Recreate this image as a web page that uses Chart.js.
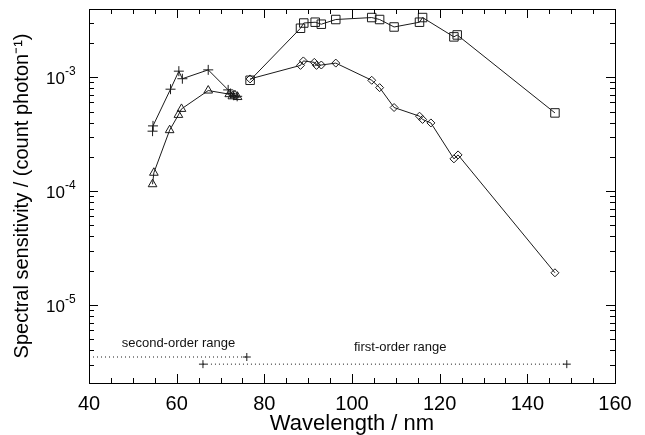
<!DOCTYPE html>
<html>
<head>
<meta charset="utf-8">
<script src="https://cdn.jsdelivr.net/npm/chart.js@4.4.1/dist/chart.umd.min.js"></script>
<style>
  html, body { margin: 0; padding: 0; background: #fff; }
</style>
</head>
<body>
<canvas id="myChart" width="645" height="435"></canvas>
<script>
// Data series (wavelength in nm, sensitivity in count/photon)
const crossNm  = [54.5, 54.6, 58.6, 60.5, 61.3, 67.2, 71.75, 72.3, 73.0, 73.8];
const crossVal = [3.36e-4, 3.74e-4, 7.85e-4, 1.13e-3, 9.7e-4, 1.16e-3, 7.74e-4, 7.2e-4, 6.95e-4, 6.8e-4];

const triNm  = [54.5, 54.8, 58.4, 60.4, 61.1, 67.2, 72.0, 72.7, 73.3, 73.9];
const triVal = [1.15e-4, 1.45e-4, 3.43e-4, 4.67e-4, 5.27e-4, 7.64e-4, 7.1e-4, 6.8e-4, 6.95e-4, 6.7e-4];

const squareNm  = [76.75, 88.25, 89.0, 91.6, 93.0, 96.3, 104.5, 106.3, 109.6, 115.4, 116.1, 123.25, 124.0, 146.3];
const squareVal = [9.4e-4, 2.69e-3, 2.99e-3, 3.04e-3, 2.92e-3, 3.21e-3, 3.34e-3, 3.21e-3, 2.76e-3, 3.04e-3, 3.34e-3, 2.26e-3, 2.35e-3, 4.86e-4];

const diamondNm  = [76.75, 88.25, 88.9, 91.4, 91.9, 93.0, 96.3, 104.5, 106.3, 109.6, 115.4, 116.1, 118.0, 123.25, 124.2, 146.3];
const diamondVal = [9.66e-4, 1.27e-3, 1.39e-3, 1.35e-3, 1.27e-3, 1.28e-3, 1.33e-3, 9.4e-4, 8.1e-4, 5.42e-4, 4.55e-4, 4.26e-4, 3.97e-4, 1.92e-4, 2.08e-4, 1.92e-5];

// order ranges (dotted bars near the bottom)
const secondRangeNm = [40, 76];
const secondRangeVal = [3.5e-6, 3.5e-6];
const firstRangeNm = [66, 149];
const firstRangeVal = [3.03e-6, 3.03e-6];

const rangeLabels = ['second-order range', 'first-order range'];
const rangeLabelNm = [60.4, 111.0];
const rangeLabelVal = [4.64e-6, 4.28e-6];

// axis ticks
const xTicks = [40, 60, 80, 100, 120, 140, 160];
const yTicks = [1e-5, 1e-4, 1e-3];
const yTickExp = ['-5', '-4', '-3'];

const pts = (xs, ys) => xs.map((x, i) => ({ x: x, y: ys[i] }));
const font = '"Liberation Sans", Arial, Helvetica, sans-serif';
const ink = '#1a1a1a';

const baseSet = {
  showLine: true,
  borderColor: ink,
  borderWidth: 1,
  backgroundColor: 'rgba(0,0,0,0)',
  pointBorderColor: ink,
  pointBorderWidth: 1,
  pointHoverRadius: 0
};

const data = {
  datasets: [
    Object.assign({}, baseSet, { label: 'cross', data: pts(crossNm, crossVal), pointStyle: 'cross', pointRadius: 5 }),
    Object.assign({}, baseSet, { label: 'triangle', data: pts(triNm, triVal), pointStyle: 'triangle', pointRadius: 5 }),
    Object.assign({}, baseSet, { label: 'square', data: pts(squareNm, squareVal), pointStyle: 'rect', pointRadius: 6 }),
    Object.assign({}, baseSet, { label: 'diamond', data: pts(diamondNm, diamondVal), pointStyle: 'rectRot', pointRadius: 4 }),
    Object.assign({}, baseSet, { label: 'second', data: pts(secondRangeNm, secondRangeVal), borderDash: [1, 3], pointStyle: 'cross', pointRadius: [0, 4] }),
    Object.assign({}, baseSet, { label: 'first', data: pts(firstRangeNm, firstRangeVal), borderDash: [1, 3], pointStyle: 'cross', pointRadius: 4 })
  ]
};

// frame with inward ticks on all four sides, power-of-ten labels, range labels
const frameTicks = {
  id: 'frameTicks',
  afterDatasetsDraw(chart) {
    const { ctx, chartArea: a, scales: { x, y } } = chart;
    ctx.save();
    ctx.strokeStyle = '#000';
    ctx.lineWidth = 1;
    const line = (x1, y1, x2, y2) => { ctx.beginPath(); ctx.moveTo(x1, y1); ctx.lineTo(x2, y2); ctx.stroke(); };
    ctx.strokeRect(Math.round(a.left) + 0.5, Math.round(a.top) + 0.5, Math.round(a.right - a.left), Math.round(a.bottom - a.top));
    for (let v = 40; v <= 160; v += 5) {
      const px = Math.round(x.getPixelForValue(v)) + 0.5;
      const len = v % 20 === 0 ? 9 : 5;
      line(px, a.bottom, px, a.bottom - len);
      line(px, a.top, px, a.top + len);
    }
    for (let e = -6; e <= -3; e++) {
      for (let m = 1; m <= 9; m++) {
        const v = m * Math.pow(10, e);
        if (v < y.min || v > y.max) continue;
        const py = Math.round(y.getPixelForValue(v)) + 0.5;
        const len = m === 1 ? 9 : 5;
        line(a.left, py, a.left + len, py);
        line(a.right, py, a.right - len, py);
      }
    }
    // y tick labels as 10 with raised exponent
    ctx.fillStyle = '#000';
    ctx.textBaseline = 'alphabetic';
    yTicks.forEach((v, i) => {
      const py = y.getPixelForValue(v);
      const xr = a.left - 24;
      ctx.font = '17px ' + font;
      ctx.textAlign = 'right';
      ctx.fillText('10', xr, py + 7);
      ctx.font = '12px ' + font;
      ctx.textAlign = 'left';
      ctx.fillText(yTickExp[i], xr, py - 2);
    });
    ctx.fillStyle = '#111';
    ctx.font = '13px ' + font;
    ctx.textAlign = 'center';
    ctx.textBaseline = 'middle';
    rangeLabels.forEach((t, i) => {
      ctx.fillText(t, x.getPixelForValue(rangeLabelNm[i]), y.getPixelForValue(rangeLabelVal[i]));
    });
    ctx.restore();
  }
};

const options = {
  responsive: false,
  animation: false,
  layout: { padding: { top: 9, right: 30, left: 0, bottom: 0 } },
  plugins: {
    legend: { display: false },
    tooltip: { enabled: false }
  },
  scales: {
    x: {
      type: 'linear',
      min: 40,
      max: 160,
      afterFit: s => { s.height = 52; s.paddingLeft = 0; s.paddingRight = 0; },
      afterBuildTicks: s => { s.ticks = xTicks.map(v => ({ value: v })); },
      grid: { display: false, drawTicks: false },
      border: { display: false },
      ticks: { color: '#000', padding: 9, font: { family: font, size: 20 }, maxRotation: 0 },
      title: { display: true, text: 'Wavelength / nm', color: '#000', font: { family: font, size: 22, lineHeight: 1 }, padding: { top: 0, bottom: 0 } }
    },
    y: {
      type: 'logarithmic',
      min: 2.07e-6,
      max: 3.97e-3,
      afterFit: s => { s.width = 89; s.paddingTop = 0; s.paddingBottom = 0; },
      afterBuildTicks: s => { s.ticks = yTicks.map(v => ({ value: v })); },
      grid: { display: false, drawTicks: false },
      border: { display: false },
      ticks: { display: false },
      title: { display: true, text: 'Spectral sensitivity / (count photon⁻¹)', color: '#000', font: { family: font, size: 20, lineHeight: 1 }, padding: { top: 12, bottom: 0 } }
    }
  }
};

const ctx = document.getElementById('myChart').getContext('2d');
const myChart = new Chart(ctx, {
  type: 'scatter',
  data: data,
  options: options,
  plugins: [frameTicks]
});
</script>
</body>
</html>
